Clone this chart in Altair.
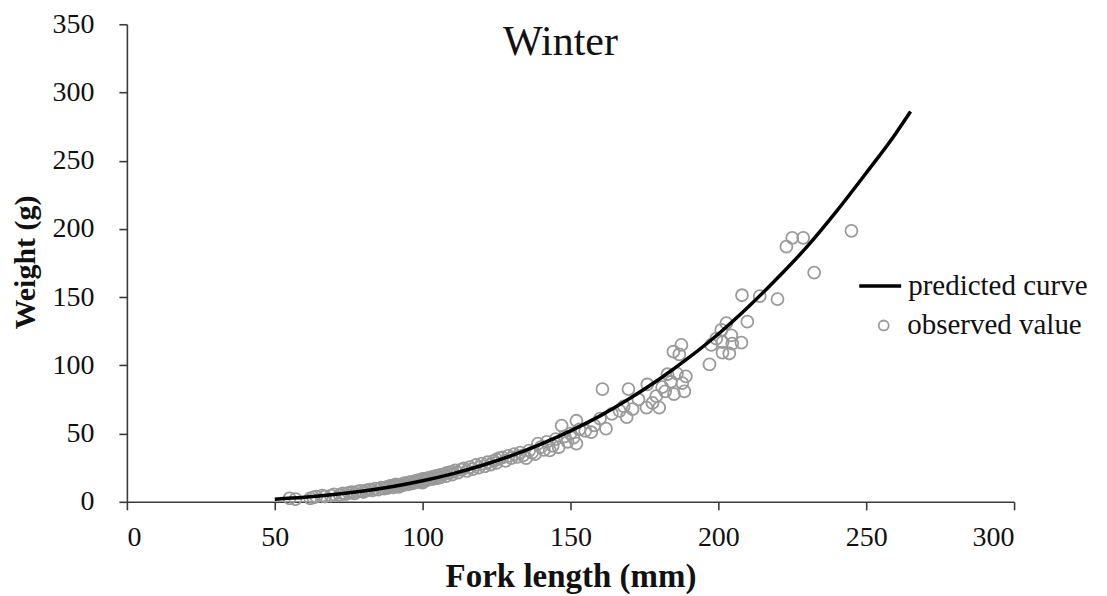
import altair as alt
import pandas as pd

fork_length = [55, 57, 62, 63, 64, 66, 67, 69, 70, 72, 73, 74, 75, 76, 77, 78, 79, 80, 81, 82,
               83, 84, 85, 86, 87, 88, 88, 89, 90, 90, 91, 91, 92, 92, 93, 93, 94, 94, 95, 95,
               96, 96, 97, 97, 98, 98, 99, 99, 100, 100, 100, 101, 101, 102, 102, 103, 103, 104, 104, 105,
               105, 106, 106, 107, 108, 108, 109, 110, 110, 111, 112, 113, 114, 115, 116, 117, 118, 119, 120, 121,
               122, 123, 124, 125, 125, 126, 127, 128, 129, 130, 131, 132, 133, 134, 135, 136, 137, 138, 139, 140,
               141, 142, 143, 144, 145, 146, 147, 148, 149, 150, 151, 152, 152, 153, 155, 157, 158, 160, 160.8, 162,
               164, 166.6, 168, 169, 169.6, 171, 173, 175.7, 176, 177.7, 179, 180, 181, 182, 182.8, 184, 184.8, 185, 186, 186.8,
               187.5, 187.8, 188.5, 189, 197, 197.6, 199.3, 201, 201.4, 201.4, 202.7, 203.7, 204.4, 204.7, 207.8, 208, 209.8, 214, 220, 223,
               225, 228.7, 232.4, 245]
weight = [2.5, 2.0, 2.5, 3.2, 3.8, 4.5, 3.9, 4.6, 5.5, 5.0, 6.2, 5.6, 6.6, 7.0, 6.2, 7.4, 8.0, 7.2, 8.3, 9.0,
          8.4, 9.6, 9.0, 10.3, 9.6, 11.0, 10.0, 11.6, 10.6, 12.0, 11.4, 12.8, 12.2, 11.0, 13.0, 12.0, 13.6, 12.6, 14.0, 12.8,
          14.6, 13.4, 15.0, 13.8, 15.6, 14.4, 16.0, 14.8, 16.8, 15.2, 14.0, 17.0, 15.6, 17.6, 16.2, 18.0, 16.6, 18.6, 17.0, 19.2,
          17.4, 19.8, 18.0, 20.0, 21.0, 18.8, 21.6, 22.0, 20.0, 23.0, 21.4, 23.6, 24.5, 22.6, 25.4, 24.0, 27.0, 25.0, 28.0, 26.0,
          29.0, 27.2, 30.0, 31.0, 28.6, 32.0, 32.6, 30.0, 33.6, 32.0, 35.0, 33.0, 36.0, 34.0, 32.0, 37.5, 36.0, 35.0, 42.7, 40.0,
          38.0, 44.0, 37.7, 41.0, 46.0, 40.0, 55.8, 48.0, 44.0, 50.0, 47.0, 59.4, 42.7, 53.0, 52.0, 51.0, 56.0, 61.0, 82.6, 53.6,
          64.5, 66.7, 70.0, 62.0, 82.6, 68.0, 75.0, 69.0, 86.0, 72.5, 77.5, 69.0, 84.0, 81.0, 93.5, 88.0, 110.0, 79.0, 94.0, 108.0,
          115.0, 87.0, 81.0, 92.0, 100.7, 115.0, 119.6, 126.0, 117.0, 109.4, 131.0, 108.7, 122.0, 116.0, 116.7, 151.4, 132.0, 150.7, 148.5, 187.0,
          193.5, 193.5, 168.0, 198.6]

# Predicted curve
curve_length = [50, 60, 70, 80, 90, 100, 110, 120, 130, 140, 150, 160, 170, 180, 190, 200, 210, 220, 230, 240, 250, 260, 265]
curve_weight = [1.9, 3.3, 5.3, 7.9, 11.2, 15.4, 20.5, 26.6, 33.8, 42.3, 52.0, 63.0, 75.7, 89.8, 105.6, 123.0, 142.6, 164.0, 187.0, 213.0, 241.0, 270.0, 286.0]

x_ticks = [0, 50, 100, 150, 200, 250, 300]
y_ticks = [0, 50, 100, 150, 200, 250, 300, 350]
panel_title = ["Winter"]

obs = pd.DataFrame({"L": fork_length, "W": weight, "series": "observed value"})
pred = pd.DataFrame({"L": curve_length, "W": curve_weight, "series": "predicted curve"})
ttl = pd.DataFrame({"t": panel_title})

FONT = "Liberation Serif"
INK = "#111111"

x_enc = alt.X("L:Q",
              scale=alt.Scale(domain=[0, 300], nice=False, zero=False),
              axis=alt.Axis(values=x_ticks, title="Fork length (mm)", titleX=444, titleY=85,
                            titleBaseline="alphabetic", labelPadding=14, titleFontSize=33))
y_enc = alt.Y("W:Q",
              scale=alt.Scale(domain=[0, 350], nice=False),
              axis=alt.Axis(values=y_ticks, title="Weight (g)", titleX=-92, titleY=238,
                            titleBaseline="alphabetic", labelPadding=25, titleFontSize=30))

points = alt.Chart(obs).mark_point(
    filled=False, size=144, strokeWidth=1.8, color="#9a9a9a", opacity=1
).encode(
    x=x_enc,
    y=y_enc,
    shape=alt.Shape("series:N",
                    scale=alt.Scale(domain=["observed value"], range=["circle"]),
                    legend=alt.Legend(title=None, orient="none", legendX=743, legendY=287,
                                      padding=0, symbolSize=100, symbolStrokeColor="#9a9a9a",
                                      symbolStrokeWidth=1.8, labelOffset=9, labelLimit=400,
                                      labelFont=FONT, labelFontSize=29, labelColor=INK)),
)

line = alt.Chart(pred).mark_line(strokeWidth=3.5, interpolate="monotone").encode(
    x="L:Q",
    y="W:Q",
    color=alt.Color("series:N",
                    scale=alt.Scale(domain=["predicted curve"], range=["black"]),
                    legend=alt.Legend(title=None, orient="none", legendX=731, legendY=239,
                                      padding=0, symbolType="stroke", symbolSize=1764,
                                      symbolStrokeWidth=3.5, labelOffset=5, labelLimit=400,
                                      labelFont=FONT, labelFontSize=29, labelColor=INK)),
)

title_text = alt.Chart(ttl).mark_text(
    font=FONT, fontSize=42, color=INK, align="center", baseline="alphabetic"
).encode(text="t:N", x=alt.value(434), y=alt.value(31))

chart = alt.layer(points, line, title_text).resolve_legend(
    color="independent", shape="independent"
).properties(
    width=888,
    height=478,
    autosize=alt.AutoSizeParams(type="none"),
    padding={"left": 119, "top": 16, "right": 85, "bottom": 92},
).configure_view(stroke=None).configure_axis(
    grid=False,
    domainColor="#3a3a3a", domainWidth=1.6,
    tickColor="#3a3a3a", tickWidth=1.6, tickSize=8,
    labelFont=FONT, labelFontSize=28, labelColor=INK,
    titleFont=FONT, titleFontWeight="bold", titleColor=INK,
)

chart.save("out.html", embed_options={"renderer": "svg", "actions": False})
